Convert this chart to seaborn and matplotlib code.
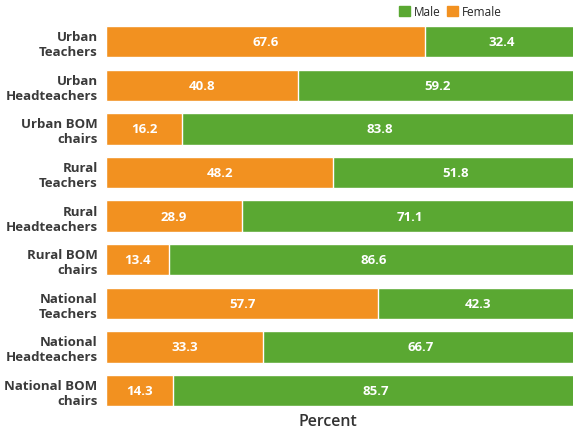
import pandas as pd
import matplotlib.pyplot as plt
import seaborn as sns
from matplotlib.patches import Patch

# Data
categories = ["Urban\nTeachers", "Urban\nHeadteachers", "Urban BOM\nchairs",
              "Rural\nTeachers", "Rural\nHeadteachers", "Rural BOM\nchairs",
              "National\nTeachers", "National\nHeadteachers", "National BOM\nchairs"]
female = [67.6, 40.8, 16.2, 48.2, 28.9, 13.4, 57.7, 33.3, 14.3]
male = [32.4, 59.2, 83.8, 51.8, 71.1, 86.6, 42.3, 66.7, 85.7]

df = pd.DataFrame({"group": categories, "Female": female, "Male": male})
df["Total"] = df["Female"] + df["Male"]

orange = "#F29120"
green = "#5AA832"

sns.set_style("white")
plt.rcParams["font.family"] = ["Open Sans", "DejaVu Sans"]

fig = plt.figure(figsize=(5.73, 4.35), dpi=100)
ax = fig.add_axes([0.185, 0.05, 0.823, 0.902])

# stacked bars: full length in green, female share on top in orange
sns.barplot(data=df, y="group", x="Total", color=green, orient="h",
            width=0.72, edgecolor="white", linewidth=1, ax=ax, saturation=1)
sns.barplot(data=df, y="group", x="Female", color=orange, orient="h",
            width=0.72, edgecolor="white", linewidth=1, ax=ax, saturation=1)

for i, (f, m) in enumerate(zip(female, male)):
    ax.text(f / 2, i, f"{f:.1f}", ha="center", va="center", color="white",
            fontsize=9.5, fontweight="bold")
    ax.text(f + m / 2, i, f"{m:.1f}", ha="center", va="center", color="white",
            fontsize=9.5, fontweight="bold")

ax.set_xlim(0, 100)
ax.set_ylim(8.5, -0.5)
ax.set_xticks([])
ax.set_ylabel("")
ax.set_xlabel("Percent", fontsize=11.5, fontweight="semibold", color="#333333")
ax.xaxis.set_label_coords(0.47, -0.002, transform=ax.transAxes)
ax.xaxis.label.set_va("top")
ax.tick_params(axis="y", length=0, pad=6, labelsize=9.5, labelcolor="#3a3a3a")
for lbl in ax.get_yticklabels():
    lbl.set_fontweight("bold")
sns.despine(ax=ax, left=True, bottom=True)

handles = [Patch(color=green, label="Male"), Patch(color=orange, label="Female")]
fig.legend(handles=handles, loc="upper right", bbox_to_anchor=(0.895, 1.01),
           ncol=2, frameon=False, fontsize=8.5, handlelength=0.9,
           handleheight=0.9, handletextpad=0.4, columnspacing=0.5)

fig.savefig("out.png", dpi=100)
